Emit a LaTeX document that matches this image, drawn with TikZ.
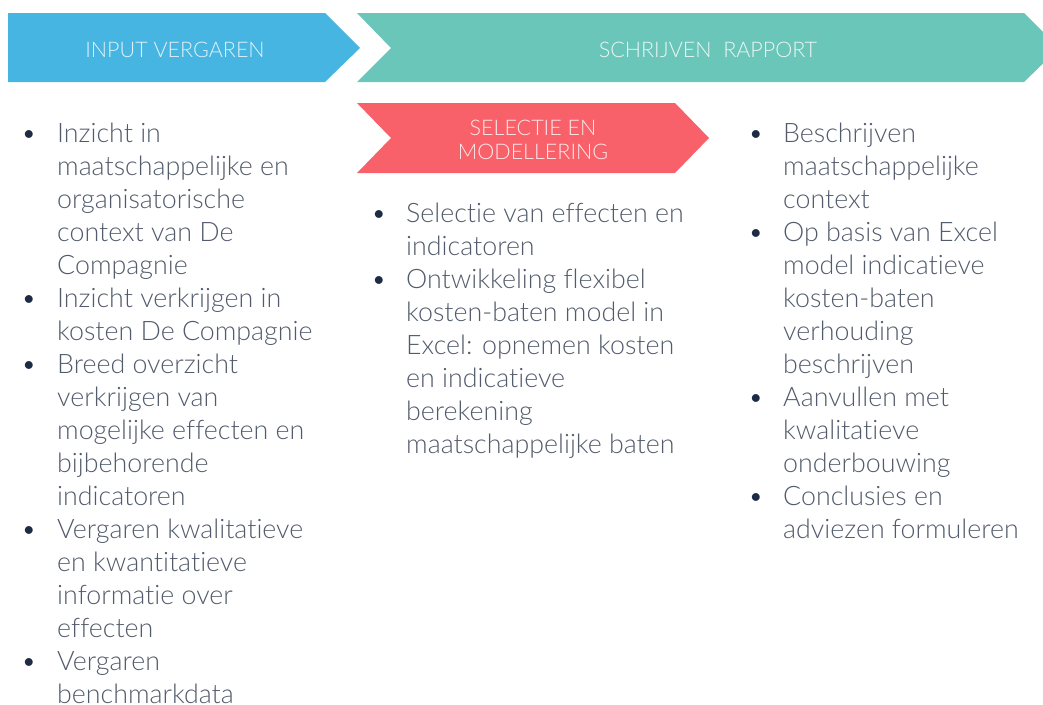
\documentclass[tikz,border=0pt]{standalone}
\usepackage{fontspec}
\setmainfont{Lato Light}[Ligatures={NoCommon}, RawFeature={-liga;-dlig}]
\usepackage{array}
\definecolor{bluec}{HTML}{47B5E1}
\definecolor{tealc}{HTML}{6BC6BA}
\definecolor{redc}{HTML}{F9616A}
\definecolor{bodyc}{HTML}{525B6B}
\definecolor{bulc}{HTML}{1E2B45}
\newcommand{\bul}{\textcolor{bulc}{•}}
\begin{document}
\begin{tikzpicture}[x=1pt,y=-1pt,
  head/.style={font=\fontsize{21.5}{24}\selectfont, inner sep=0pt, align=center, anchor=base},
  col/.style={anchor=base west, inner sep=0pt, font=\fontsize{26.8}{33}\selectfont, text=bodyc}]
\useasboundingbox (0,0) rectangle (1043,704);
\clip (0,0) rectangle (1043,704);
% chevrons
\fill[bluec] (8,13) -- (325,13) -- (360,48) -- (325,82) -- (8,82) -- cycle;
\fill[tealc] (357,13) -- (1024,13) -- (1059,48) -- (1024,82) -- (357,82) -- (391,48) -- cycle;
\fill[redc] (357,103) -- (675,103) -- (709,138) -- (675,173) -- (357,173) -- (391,138) -- cycle;
% headers
\node[head, text=white!82!bluec] (h1) at (175,57) {INPUT VERGAREN};
\node[head, text=white!85!tealc] (h2) at (708,57) {SCHRIJVEN\ \ RAPPORT};
\node[head, text=white!85!redc] (h3) at (533,159) {SELECTIE EN\\MODELLERING};
% columns
\node[col] (c1) at (21,142) {\begin{tabular}[t]{@{}p{36pt}@{}l@{}}
\bul & Inzicht in\\
 & maatschappelijke en\\
 & organisatorische\\
 & context van De\\
 & Compagnie\\
\bul & Inzicht verkrijgen in\\
 & kosten De Compagnie\\
\bul & Breed overzicht\\
 & verkrijgen van\\
 & mogelijke effecten en\\
 & bijbehorende\\
 & indicatoren\\
\bul & Vergaren kwalitatieve\\
 & en kwantitatieve\\
 & informatie over\\
 & effecten\\
\bul & Vergaren\\
 & benchmarkdata
\end{tabular}};
\node[col] (c2) at (371,222) {\begin{tabular}[t]{@{}p{35pt}@{}l@{}}
\bul & Selectie van effecten en\\
 & indicatoren\\
\bul & Ontwikkeling flexibel\\
 & kosten-baten model in\\
 & Excel: opnemen kosten\\
 & en indicatieve\\
 & berekening\\
 & maatschappelijke baten
\end{tabular}};
\node[col] (c3) at (748,142) {\begin{tabular}[t]{@{}p{35pt}@{}l@{}}
\bul & Beschrijven\\
 & maatschappelijke\\
 & context\\
\bul & Op basis van Excel\\
 & model indicatieve\\
 & kosten-baten\\
 & verhouding\\
 & beschrijven\\
\bul & Aanvullen met\\
 & kwalitatieve\\
 & onderbouwing\\
\bul & Conclusies en\\
 & adviezen formuleren
\end{tabular}};
\end{tikzpicture}
\end{document}
